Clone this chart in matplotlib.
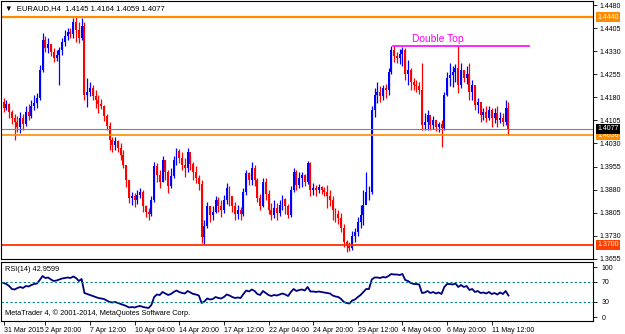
import matplotlib.pyplot as plt
import numpy as np

plt.rcParams['font.family'] = ['Liberation Sans', 'DejaVu Sans']

# EURAUD H4, 31 Mar 2015 08:00 .. 12 May 2015 12:00
closes = [
    1.4145, 1.4158, 1.4132, 1.4113, 1.4100, 1.4083, 1.4113, 1.4093, 1.4132, 1.4119,
    1.4152, 1.4161, 1.4178, 1.4269, 1.4366, 1.4340, 1.4353, 1.4327, 1.4308, 1.4317,
    1.4334, 1.4360, 1.4379, 1.4392, 1.4386, 1.4425, 1.4399, 1.4373, 1.4412, 1.4187,
    1.4197, 1.4210, 1.4184, 1.4171, 1.4158, 1.4152, 1.4119, 1.4087, 1.4041, 1.4025,
    1.4038, 1.4015, 1.3992, 1.3960, 1.3911, 1.3853, 1.3859, 1.3846, 1.3862, 1.3872,
    1.3827, 1.3807, 1.3801, 1.3846, 1.3957, 1.3927, 1.3905, 1.3976, 1.3937, 1.3892,
    1.3924, 1.3976, 1.4005, 1.3983, 1.3960, 1.3950, 1.4002, 1.3963, 1.3937, 1.3918,
    1.3898, 1.3726, 1.3762, 1.3827, 1.3797, 1.3807, 1.3846, 1.3827, 1.3814, 1.3846,
    1.3885, 1.3859, 1.3827, 1.3801, 1.3814, 1.3801, 1.3872, 1.3934, 1.3911, 1.3950,
    1.3911, 1.3853, 1.3827, 1.3905, 1.3866, 1.3814, 1.3797, 1.3820, 1.3804, 1.3830,
    1.3849, 1.3827, 1.3797, 1.3879, 1.3937, 1.3895, 1.3918, 1.3927, 1.3905, 1.3966,
    1.3879, 1.3885, 1.3879, 1.3888, 1.3879, 1.3872, 1.3859, 1.3846, 1.3814, 1.3801,
    1.3788, 1.3755, 1.3710, 1.3697, 1.3690, 1.3729, 1.3742, 1.3775, 1.3797, 1.3830,
    1.3872, 1.3872, 1.4139, 1.4187, 1.4197, 1.4184, 1.4210, 1.4204, 1.4262, 1.4334,
    1.4314, 1.4308, 1.4321, 1.4334, 1.4256, 1.4269, 1.4230, 1.4220, 1.4217, 1.4204,
    1.4090, 1.4100, 1.4122, 1.4090, 1.4106, 1.4083, 1.4093, 1.4080, 1.4187, 1.4243,
    1.4252, 1.4262, 1.4275, 1.4220, 1.4269, 1.4243, 1.4256, 1.4197, 1.4220, 1.4155,
    1.4165, 1.4122, 1.4132, 1.4113, 1.4139, 1.4113, 1.4129, 1.4106, 1.4113, 1.4100,
    1.4145, 1.4077,
]
highs = [
    1.4178, 1.4171, 1.4161, 1.4139, 1.4126, 1.4119, 1.4132, 1.4126, 1.4152, 1.4158,
    1.4171, 1.4187, 1.4194, 1.4285, 1.4389, 1.4379, 1.4373, 1.4353, 1.4340, 1.4334,
    1.4343, 1.4373, 1.4399, 1.4405, 1.4405, 1.4438, 1.4441, 1.4425, 1.4438, 1.4425,
    1.4243, 1.4230, 1.4220, 1.4204, 1.4187, 1.4174, 1.4155, 1.4126, 1.4100, 1.4051,
    1.4051, 1.4041, 1.4031, 1.4009, 1.3960, 1.3911, 1.3872, 1.3869, 1.3879, 1.3885,
    1.3879, 1.3830, 1.3820, 1.3859, 1.3970, 1.3966, 1.3944, 1.3989, 1.3976, 1.3944,
    1.3950, 1.3989, 1.4015, 1.4012, 1.4002, 1.3983, 1.4015, 1.3989, 1.3970, 1.3957,
    1.3927, 1.3911, 1.3781, 1.3840, 1.3823, 1.3827, 1.3859, 1.3856, 1.3846, 1.3862,
    1.3901, 1.3892, 1.3853, 1.3840, 1.3830, 1.3823, 1.3885, 1.3944, 1.3937, 1.3970,
    1.3960, 1.3918, 1.3866, 1.3918, 1.3918, 1.3879, 1.3836, 1.3846, 1.3836, 1.3846,
    1.3862, 1.3853, 1.3833, 1.3892, 1.3950, 1.3944, 1.3937, 1.3937, 1.3931, 1.3973,
    1.3970, 1.3901, 1.3895, 1.3898, 1.3892, 1.3888, 1.3895, 1.3879, 1.3859, 1.3820,
    1.3814, 1.3804, 1.3768, 1.3716, 1.3710, 1.3745, 1.3755, 1.3791, 1.3830, 1.3879,
    1.3937, 1.3892, 1.4152, 1.4210, 1.4230, 1.4217, 1.4220, 1.4223, 1.4275, 1.4347,
    1.4347, 1.4327, 1.4337, 1.4343, 1.4340, 1.4301, 1.4275, 1.4243, 1.4236, 1.4230,
    1.4291, 1.4129, 1.4139, 1.4116, 1.4119, 1.4106, 1.4100, 1.4106, 1.4197, 1.4262,
    1.4291, 1.4282, 1.4288, 1.4347, 1.4291, 1.4269, 1.4282, 1.4291, 1.4236, 1.4210,
    1.4178, 1.4155, 1.4145, 1.4152, 1.4152, 1.4145, 1.4145, 1.4152, 1.4132, 1.4129,
    1.4171, 1.4164,
]
lows = [
    1.4132, 1.4139, 1.4113, 1.4093, 1.4041, 1.4067, 1.4064, 1.4074, 1.4087, 1.4106,
    1.4113, 1.4139, 1.4145, 1.4171, 1.4262, 1.4327, 1.4324, 1.4314, 1.4295, 1.4298,
    1.4220, 1.4317, 1.4347, 1.4366, 1.4373, 1.4373, 1.4360, 1.4356, 1.4366, 1.4171,
    1.4148, 1.4184, 1.4171, 1.4145, 1.4129, 1.4142, 1.4103, 1.4074, 1.4009, 1.4002,
    1.4009, 1.4002, 1.3976, 1.3950, 1.3888, 1.3836, 1.3830, 1.3823, 1.3833, 1.3853,
    1.3807, 1.3791, 1.3781, 1.3794, 1.3840, 1.3905, 1.3885, 1.3905, 1.3911, 1.3869,
    1.3885, 1.3918, 1.3960, 1.3966, 1.3944, 1.3921, 1.3937, 1.3944, 1.3911, 1.3901,
    1.3879, 1.3706, 1.3700, 1.3755, 1.3775, 1.3781, 1.3804, 1.3807, 1.3791, 1.3804,
    1.3833, 1.3827, 1.3807, 1.3781, 1.3784, 1.3781, 1.3794, 1.3862, 1.3895, 1.3895,
    1.3892, 1.3840, 1.3814, 1.3823, 1.3846, 1.3801, 1.3781, 1.3788, 1.3781, 1.3794,
    1.3814, 1.3801, 1.3788, 1.3791, 1.3872, 1.3879, 1.3885, 1.3888, 1.3892, 1.3898,
    1.3859, 1.3862, 1.3859, 1.3869, 1.3866, 1.3859, 1.3820, 1.3827, 1.3781, 1.3775,
    1.3768, 1.3742, 1.3693, 1.3677, 1.3680, 1.3684, 1.3710, 1.3729, 1.3755, 1.3765,
    1.3846, 1.3846, 1.3866, 1.4116, 1.4161, 1.4165, 1.4171, 1.4178, 1.4187, 1.4256,
    1.4295, 1.4291, 1.4288, 1.4282, 1.4236, 1.4220, 1.4204, 1.4204, 1.4197, 1.4191,
    1.4074, 1.4074, 1.4074, 1.4074, 1.4077, 1.4070, 1.4067, 1.4018, 1.4074, 1.4184,
    1.4217, 1.4213, 1.4230, 1.4194, 1.4210, 1.4230, 1.4223, 1.4171, 1.4171, 1.4139,
    1.4129, 1.4100, 1.4106, 1.4100, 1.4106, 1.4083, 1.4096, 1.4083, 1.4096, 1.4087,
    1.4090, 1.4059,
]
first_open = 1.4165
opens = [first_open] + closes[:-1]

rsi = [
    68, 66, 62, 56, 55, 58, 60, 58, 62, 61,
    64, 66, 67, 74, 82, 78, 79, 75, 72, 73,
    75, 77, 78, 79, 78, 81, 78, 72, 76, 48,
    46, 44, 42, 40, 38, 37, 36, 33, 30, 29,
    30, 28, 26, 24, 22, 19, 20, 19, 21, 22,
    20, 19, 18, 24, 40, 45, 44, 50, 47, 44,
    46, 50, 53, 50, 48, 47, 52, 49, 46, 45,
    43, 28, 31, 37, 35, 36, 40, 38, 37, 40,
    45, 43, 40, 38, 39, 38, 46, 53, 51, 55,
    52, 46, 44, 52, 48, 44, 42, 44, 43, 45,
    47, 45, 42, 50, 56, 52, 54, 55, 53, 60,
    51, 51, 50, 51, 50, 49, 48, 47, 43, 41,
    40, 36, 30, 28, 27, 33, 35, 40, 44, 50,
    56, 56, 75, 79, 79, 78, 80, 79, 82, 86,
    85, 85, 84, 86, 74, 72, 68, 66, 66, 65,
    48, 49, 52, 48, 50, 47, 49, 46, 60, 66,
    66, 65, 67, 60, 64, 60, 62, 54, 56, 50,
    52, 48, 49, 47, 50, 46, 48, 45, 49, 46,
    52, 42.96,
]

date_idx = [0, 15, 31, 47, 63, 79, 95, 111, 127, 143, 159, 175]
date_labels = ['31 Mar 2015', '2 Apr 20:00', '7 Apr 12:00', '10 Apr 04:00',
               '14 Apr 20:00', '17 Apr 12:00', '22 Apr 04:00', '24 Apr 20:00',
               '29 Apr 12:00', '4 May 04:00', '6 May 20:00', '11 May 12:00']

price_ticks = [1.4480, 1.4405, 1.4330, 1.4255, 1.4180, 1.4105, 1.4030,
               1.3955, 1.3880, 1.3805, 1.3730, 1.3655]
resist_top = 1.4440
support_mid = 1.4056
support_low = 1.3700
double_top = 1.4347
last_price = 1.4077

FS = 5.0

#------------------------------------------------------------
fig = plt.figure(figsize=(6.25, 3.34), dpi=100)
W, H = 625.0, 334.0
ax = fig.add_axes([1 / W, 75 / H, 592 / W, 258 / H])
axr = fig.add_axes([1 / W, 13 / H, 592 / W, 59 / H])

n = len(closes)
idx = np.arange(n)
o = np.array(opens)
c = np.array(closes)
up = c >= o
cols = np.where(up, '#0000ff', '#ff0000')

ax.vlines(idx, lows, highs, colors=cols, linewidth=0.9)
body_lo = np.minimum(o, c)
body_h = np.maximum(np.abs(c - o), 0.00012)
ax.bar(idx, body_h, bottom=body_lo, width=0.7, color=cols, linewidth=0)

xmin, xmax = -0.9, 211.3
ax.set_xlim(xmin, xmax)
ax.set_ylim(1.36545, 1.4493)

ax.axhline(resist_top, color='#ff8c00', linewidth=1.6)
ax.axhline(support_mid, color='#ff8c00', linewidth=1.2)
ax.axhline(support_low, color='#ff3000', linewidth=1.3)
ax.axhline(last_price, color='#808080', linewidth=0.8)
ax.plot([139.5, 188.5], [double_top, double_top], color='#ff00ff', linewidth=1.2)
ax.text(146.3, double_top + 0.0005, 'Double Top', color='#ff00ff', fontsize=7.4,
        va='bottom', ha='left')

ax.set_xticks([])
ax.yaxis.tick_right()
ax.set_yticks(price_ticks)
ax.set_yticklabels(['%.4f' % p for p in price_ticks])
ax.tick_params(axis='y', length=3, width=0.6, pad=2, labelsize=FS)

for val, fc in [(resist_top, '#ff8c00'), (support_mid, '#ff8c00'),
                (last_price, '#000000'), (support_low, '#ff4000')]:
    ax.text(1.007, val, '%.4f' % val, transform=ax.get_yaxis_transform(),
            fontsize=FS, color='white', va='center', ha='left',
            bbox=dict(boxstyle='square,pad=0.2', fc=fc, ec='none'))

ax.text(0.006, 0.985, u'\u25bc  EURAUD,H4  1.4145 1.4164 1.4059 1.4077',
        transform=ax.transAxes, fontsize=5.5, va='top', ha='left')

for sp in ax.spines.values():
    sp.set_linewidth(0.8)

# RSI panel
axr.plot(idx, rsi, color='#000080', linewidth=1.3)
axr.axhline(70, color='#008080', linewidth=0.8, linestyle=(0, (2, 2)))
axr.axhline(30, color='#008080', linewidth=0.8, linestyle=(0, (2, 2)))
axr.set_xlim(xmin, xmax)
axr.set_ylim(-8, 110)
axr.yaxis.tick_right()
axr.set_yticks([0, 30, 70, 100])
axr.tick_params(axis='y', length=3, width=0.6, pad=3, labelsize=FS)
axr.set_xticks(date_idx)
axr.set_xticklabels(date_labels, ha='left')
axr.tick_params(axis='x', length=3, width=0.6, pad=1, labelsize=FS)
axr.text(0.006, 0.93, 'RSI(14) 42.9599', transform=axr.transAxes,
         fontsize=5.3, va='top', ha='left')
axr.text(0.006, 0.06, u'MetaTrader 4, \u00a9 2001-2014, MetaQuotes Software Corp.',
         transform=axr.transAxes, fontsize=5.3, va='bottom', ha='left')
for sp in axr.spines.values():
    sp.set_linewidth(0.8)

fig.savefig('out.png', dpi=100)
